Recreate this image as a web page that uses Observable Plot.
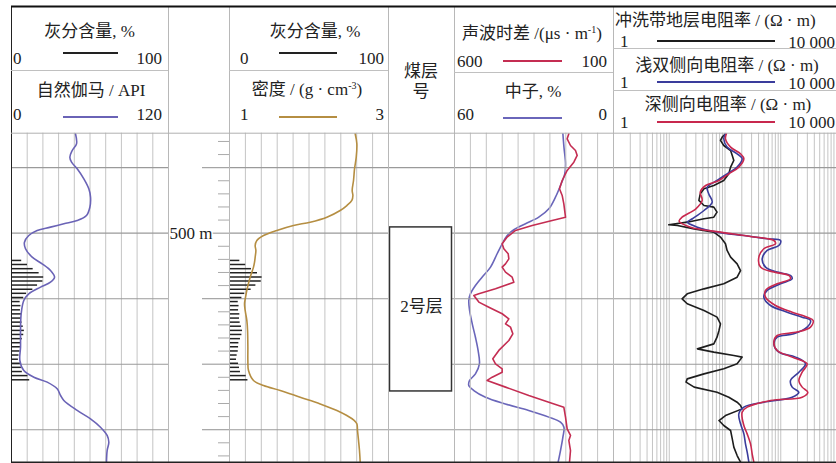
<!DOCTYPE html>
<html><head><meta charset="utf-8">
<script src="https://cdn.jsdelivr.net/npm/d3@7"></script>
<script src="https://cdn.jsdelivr.net/npm/@observablehq/plot@0.6"></script>
<style>
body{margin:0;background:#fff;}
#wrap{position:relative;width:836px;height:463px;overflow:hidden;font-family:"Liberation Serif","Times New Roman","Noto Sans CJK SC",serif;color:#222;}
#wrap svg{position:absolute;left:0;top:0;}
.t{position:absolute;font-size:17px;white-space:nowrap;line-height:17px;height:17px;}
.c{transform:translateX(-50%);}
.ln{position:absolute;height:0;border-top:2px solid #222;}
sup{font-size:10px;vertical-align:6px;line-height:0;}
</style></head><body><div id="wrap"></div>
<script>
// ---------------- data ----------------
const depthMajor = [495, 500, 505, 510, 515];
const depthMinor = [493,494,496,497,498,499,501,502,503,504,506,507,508,509,511,512,513,514,516,517];
const depthLabels = [500];

const grDepth = [492.41,493.18,493.69,494.20,494.58,495.08,495.85,496.61,497.25,498.02,498.65,499.03,499.28,499.54,499.79,500.18,500.69,501.19,501.83,502.34,502.85,503.36,503.74,504.12,504.63,505.14,506.15,507.43,508.70,509.72,510.48,510.99,511.37,511.88,512.39,512.77,513.53,514.17,514.81,515.44,515.95,516.59,517.48];
const grValue = [48.9,49.7,46.4,44.6,45.9,50.2,55.3,59.1,60.4,59.9,57.3,50.2,40.0,29.8,19.6,13.2,9.9,10.7,15.8,23.4,29.8,32.9,29.8,22.2,13.2,9.4,7.4,6.9,6.9,6.4,9.4,17.1,27.3,34.9,37.5,40.0,50.2,60.4,68.0,73.1,74.4,73.1,72.6];

const ashDepth = [502.08,502.39,502.71,503.02,503.34,503.65,503.96,504.28,504.59,504.91,505.22,505.53,505.85,506.16,506.48,506.79,507.10,507.42,507.73,508.05,508.36,508.67,508.99,509.30,509.62,509.93,510.24,510.56,510.87,511.19];
const ashValue = [6.5,10.2,13.8,17.6,20.5,20.0,16.6,13.6,9.6,7.8,5.5,6.0,5.7,6.5,6.3,6.7,7.5,8.2,7.8,6.9,5.9,5.7,5.5,4.8,4.4,5.7,6.3,6.9,10.5,11.6];

const denDepth = [492.41,493.18,494.20,495.08,495.98,496.74,497.12,497.50,497.89,498.27,498.78,499.16,499.41,499.79,500.18,500.56,500.94,501.32,501.83,502.21,502.59,503.36,504.12,504.88,505.39,505.90,506.66,507.43,508.70,509.72,510.48,511.24,511.63,512.01,512.52,513.03,513.53,513.92,514.25,514.55,515.06,515.82,516.59,517.48];
const denValue = [2.581,2.602,2.594,2.573,2.560,2.543,2.552,2.539,2.476,2.392,2.225,2.015,1.805,1.596,1.428,1.344,1.323,1.332,1.323,1.315,1.302,1.260,1.227,1.202,1.189,1.197,1.218,1.227,1.231,1.231,1.239,1.302,1.428,1.638,1.889,2.141,2.351,2.476,2.560,2.602,2.610,2.623,2.635,2.644];

const seams = [{name: "2号层", top: 499.56, bottom: 512.08}];

const sonDepth = [492.41,492.80,493.31,493.69,494.07,494.58,495.21,495.98,496.61,497.12,497.76,498.78,499.03,499.41,499.79,500.30,500.81,501.19,501.57,501.96,502.34,502.59,502.97,503.36,503.74,504.25,504.63,504.76,505.26,505.65,506.15,506.54,506.92,507.17,507.68,508.19,508.95,509.59,509.97,510.35,510.61,510.99,511.24,511.75,512.39,512.90,513.28,514.04,514.93,515.44,515.82,516.59,517.48];
const sonValue = [240.5,245.7,235.2,219.5,214.2,224.7,245.7,261.4,269.8,261.4,256.2,250.9,292.9,355.7,408.2,434.4,450.1,444.9,431.2,429.1,439.6,450.1,439.6,418.6,413.4,471.1,523.5,539.2,523.5,492.0,450.1,429.1,439.6,423.9,416.6,429.1,460.6,479.5,471.1,450.1,450.1,481.5,497.3,439.6,366.3,303.4,256.2,250.9,245.7,235.2,240.5,235.2,238.4];

const neuDepth = [492.41,493.43,494.70,495.47,496.36,497.25,498.14,498.78,499.28,499.74,500.18,500.81,501.57,502.59,503.36,503.99,504.63,505.14,505.90,506.92,507.94,508.95,509.97,510.74,511.24,511.63,512.01,512.52,513.03,513.53,514.04,514.43,514.81,515.57,516.59,517.48];
const neuValue = [19.1,18.7,18.1,18.4,20.0,21.9,24.4,28.2,33.2,37.6,40.1,42.0,43.9,46.4,49.6,52.1,54.0,54.6,54.3,53.3,52.1,51.1,50.6,52.1,54.3,54.6,52.7,48.3,40.8,32.0,24.4,20.0,18.7,19.1,20.0,20.9];

const rxoDepth = [492.41,492.67,492.92,493.31,493.69,494.07,494.45,494.96,495.47,495.98,496.36,496.61,497.00,497.50,497.89,498.01,498.39,498.78,498.90,499.16,499.36,499.41,499.67,499.92,500.30,500.81,501.32,501.83,502.34,502.85,503.36,503.86,504.25,504.63,505.01,505.39,505.90,506.41,506.92,507.43,507.94,508.45,508.83,509.08,509.34,509.46,509.97,510.35,510.74,511.12,511.37,511.75,512.14,512.52,512.90,513.15,513.41,513.92,514.30,514.68,515.06,515.70,516.33,516.97,517.48];
const rxoValue = [102,89,83,95,126,135,144,126,117,95,63,42,36,34,42,63,72,63,42,21,9.8,14,28,63,83,102,109,126,165,190,165,95,42,21,17,21,42,72,83,78,72,63,32,63,144,203,165,95,42,21,20,28,72,117,165,190,203,102,78,95,126,135,144,165,190];

const llsDepth = [492.41,492.80,493.43,493.94,494.32,494.96,495.47,495.98,496.49,497.00,497.63,498.27,498.90,499.16,499.54,499.92,500.18,500.43,500.56,500.94,501.32,501.96,502.59,502.97,503.23,503.48,503.86,504.37,504.88,505.52,506.03,506.41,506.66,507.17,507.68,507.94,508.45,509.08,509.46,509.97,510.61,511.24,511.75,512.14,512.52,512.90,513.28,513.79,514.55,515.32,516.08,516.71,517.48];
const llsValue = [102,95,109,165,203,165,109,72,48,51,59,42,26,21,32,72,218,571,990,924,571,464,533,863,1496,1602,990,571,497,655,1303,2422,3417,2977,1717,863,752,924,1839,2779,2115,1496,1602,2115,1602,497,218,177,190,218,233,250,268];

const lldDepth = [492.41,492.80,493.43,493.94,494.32,494.96,495.47,495.98,496.36,496.87,497.50,498.14,498.78,499.08,499.54,499.92,500.25,500.56,500.81,501.19,501.83,502.59,502.97,503.23,503.48,503.86,504.37,504.88,505.52,506.03,506.41,506.66,507.17,507.55,507.81,508.32,508.95,509.46,509.97,510.61,511.24,511.75,512.14,512.52,512.77,513.28,513.66,514.68,515.32,516.08,516.84,517.48];
const lldValue = [106,102,126,190,218,177,117,78,45,36,39,30,17,15,24,83,287,752,805,497,405,433,752,1396,1496,863,533,533,805,1602,2977,3815,3417,1970,863,752,863,1602,2977,2422,2115,2422,3060,2422,655,250,203,218,250,287,307,329];

// tick values of each track
const pctTicks = [0,10,20,30,40,50,60,70,80,90,100];
const sonTicks = [600,550,500,450,400,350,300,250,200,150,100];
const logTicks = [1,2,3,4,5,6,7,8,9,10,20,30,40,50,60,70,80,90,100,200,300,400,500,600,700,800,900,1000,2000,3000,4000,5000,6000,7000,8000,9000,10000];

// ---------------- helpers ----------------
const zip = (d, v) => d.map((depth, i) => ({depth, value: v[i]}));
const wrap = document.getElementById("wrap");
const FONT = '"Liberation Serif","Times New Roman","Noto Sans CJK SC",serif';
const Y = {domain: [492.37, 517.48], range: [132.7, 461.7], axis: null};
const VGRID = "#c4c4c4", HGRID = "#9a9a9a";
const C = {gr: "#6a63b6", den: "#b58e42", son: "#c42d52", neu: "#6a66ba", rxo: "#1d1d1d", lls: "#3a3c9c", lld: "#c8284e", ash: "#222"};

function layer(x, marks, y = Y) {
  const svg = Plot.plot({width: 836, height: 463, margin: 0, x: {...x, axis: null}, y: {...y, axis: null},
    style: {background: "transparent", overflow: "visible", fontFamily: FONT}, marks});
  wrap.appendChild(svg);
}
function grid(ticks, lo, hi) {
  return [
    Plot.ruleX(ticks, {x: d => d, y1: Y.domain[0], y2: Y.domain[1], stroke: VGRID, strokeWidth: 1}),
    Plot.ruleY(depthMajor, {y: d => d, x1: lo, x2: hi, stroke: HGRID, strokeWidth: 1.1})
  ];
}

// ---- frame (pixel layout, identity scales) ----
const frameV = [
  {x: 168, y1: 6, y2: 461.7, c: "#b8b8b8"}, {x: 229, y1: 6, y2: 461.7, c: "#b8b8b8"},
  {x: 388, y1: 6, y2: 461.7, c: "#b8b8b8"}, {x: 454, y1: 6, y2: 461.7, c: "#b8b8b8"},
  {x: 613, y1: 6, y2: 461.7, c: "#b8b8b8"}, {x: 11, y1: 6, y2: 462, c: "#222"}
];
const frameH = [
  {y: 132.7, x1: 11, x2: 836, c: "#b0b0b0", w: 1}, {y: 70, x1: 11, x2: 168, c: "#c0c0c0", w: 1},
  {y: 70, x1: 229, x2: 388, c: "#c0c0c0", w: 1}, {y: 72, x1: 454, x2: 613, c: "#c0c0c0", w: 1},
  {y: 48, x1: 613, x2: 836, c: "#c0c0c0", w: 1}, {y: 90, x1: 613, x2: 836, c: "#c0c0c0", w: 1},
  {y: 6, x1: 11, x2: 836, c: "#111", w: 2}, {y: 461.7, x1: 11, x2: 836, c: "#222", w: 1.5}
];

// Track 1: ash bars + grid
layer({domain: [0, 100], range: [11, 168]}, [
  ...grid(pctTicks, 0, 100),
  Plot.ruleY(zip(ashDepth, ashValue), {y: "depth", x1: 0, x2: "value", stroke: C.ash, strokeWidth: 1.5})
]);
// Track 1: GR
layer({domain: [0, 120], range: [11, 168]}, [
  Plot.line(zip(grDepth, grValue), {x: "value", y: "depth", stroke: C.gr, strokeWidth: 1.6, curve: "catmull-rom"})
]);
// Depth column
layer({type: "identity"}, [
  Plot.ruleY(depthMajor, {y: d => d, x1: 202, x2: 229, stroke: HGRID, strokeWidth: 1.1}),
  Plot.ruleY(depthMinor, {y: d => d, x1: 218, x2: 229, stroke: "#aaa", strokeWidth: 1}),
  Plot.text(depthLabels, {y: d => d, x: 169, text: d => `${d} m`, textAnchor: "start", fontSize: 17, fill: "#222", stroke: "#fff", strokeWidth: 3, paintOrder: "stroke"})
]);
// Track 2: ash + grid
layer({domain: [0, 100], range: [229, 388]}, [
  ...grid(pctTicks, 0, 100),
  Plot.ruleY(zip(ashDepth, ashValue), {y: "depth", x1: 0, x2: "value", stroke: C.ash, strokeWidth: 1.5})
]);
// Track 2: density
layer({domain: [1, 3], range: [229, 388]}, [
  Plot.line(zip(denDepth, denValue), {x: "value", y: "depth", stroke: C.den, strokeWidth: 1.6, curve: "catmull-rom"})
]);
// Coal seam column
layer({domain: [0, 1], range: [388, 454]}, [
  Plot.ruleY(depthMajor, {y: d => d, x1: 0, x2: 1, stroke: HGRID, strokeWidth: 1.1}),
  Plot.rect(seams, {x1: 0, x2: 1, y1: "top", y2: "bottom", insetLeft: 1.5, insetRight: 2.5, fill: "#fff", stroke: "#333", strokeWidth: 1.5}),
  Plot.text(seams, {x: 0.5, y: d => (d.top + d.bottom) / 2, text: "name", fontSize: 17, fill: "#222", dy: -3})
]);
// Track 3: neutron
layer({domain: [60, 0], range: [454, 613]}, [
  Plot.line(zip(neuDepth, neuValue), {x: "value", y: "depth", stroke: C.neu, strokeWidth: 1.6, curve: "catmull-rom"})
]);
// Track 3: grid + sonic
layer({domain: [600, 100], range: [454, 613]}, [
  ...grid(sonTicks, 600, 100),
  Plot.line(zip(sonDepth, sonValue), {x: "value", y: "depth", stroke: C.son, strokeWidth: 1.6})
]);
// Track 4: resistivities
layer({type: "log", domain: [1, 10000], range: [613, 836]}, [
  ...grid(logTicks, 1, 10000),
  Plot.line(zip(rxoDepth, rxoValue), {x: "value", y: "depth", stroke: C.rxo, strokeWidth: 1.6}),
  Plot.line(zip(llsDepth, llsValue), {x: "value", y: "depth", stroke: C.lls, strokeWidth: 1.6, curve: "catmull-rom"}),
  Plot.line(zip(lldDepth, lldValue), {x: "value", y: "depth", stroke: C.lld, strokeWidth: 1.6, curve: "catmull-rom"})
]);
// frame on top
layer({type: "identity"}, [
  Plot.ruleX(frameV, {x: "x", y1: "y1", y2: "y2", stroke: "c", strokeWidth: 1}),
  Plot.ruleY(frameH, {y: "y", x1: "x1", x2: "x2", stroke: "c", strokeWidth: "w"})
], {type: "identity"});

// ---------------- header (HTML text) ----------------
function T(html, o) {
  const d = document.createElement("div");
  d.className = "t" + (o.cx !== undefined ? " c" : "");
  d.innerHTML = html;
  if (o.cx !== undefined) d.style.left = o.cx + "px";
  if (o.l !== undefined) d.style.left = o.l + "px";
  if (o.r !== undefined) d.style.right = (836 - o.r) + "px";
  d.style.top = (o.cy - 9) + "px";
  wrap.appendChild(d);
}
function L(x1, x2, y, color) {
  const d = document.createElement("div");
  d.className = "ln";
  d.style.left = x1 + "px"; d.style.width = (x2 - x1) + "px"; d.style.top = (y - 1) + "px";
  d.style.borderTopColor = color;
  wrap.appendChild(d);
}
// track 1
T("灰分含量, %", {cx: 89.5, cy: 32}); T("0", {l: 13, cy: 59}); T("100", {r: 162, cy: 59}); L(63, 118, 53, C.ash);
T("自然伽马 / API", {cx: 91, cy: 91}); T("0", {l: 13, cy: 115}); T("120", {r: 162, cy: 115}); L(63, 118, 117, C.gr);
// track 2
T("灰分含量, %", {cx: 315, cy: 32}); T("0", {l: 240, cy: 59}); T("100", {r: 384, cy: 59}); L(279, 337, 53, C.ash);
T("密度 / (g · cm<sup>-3</sup>)", {cx: 307, cy: 90}); T("1", {l: 240, cy: 115}); T("3", {r: 384, cy: 115}); L(279, 337, 117, C.den);
// coal
T("煤层", {cx: 421, cy: 72}); T("号", {cx: 421, cy: 92});
// track 3
T("声波时差 /(μs · m<sup>-1</sup>)", {cx: 532, cy: 34}); T("600", {l: 457, cy: 62}); T("100", {r: 607, cy: 62}); L(503, 562, 61, C.son);
T("中子, %", {cx: 533, cy: 92}); T("60", {l: 457, cy: 115}); T("0", {r: 607, cy: 115}); L(503, 562, 118, C.neu);
// track 4
T("冲洗带地层电阻率 / (Ω · m)", {l: 615, cy: 21}); T("1", {l: 620, cy: 42}); T("10 000", {r: 835, cy: 43}); L(657, 775, 41, C.rxo);
T("浅双侧向电阻率 / (Ω · m)", {cx: 727, cy: 66}); T("1", {l: 620, cy: 83}); T("10 000", {r: 835, cy: 84}); L(657, 775, 82, C.lls);
T("深侧向电阻率 / (Ω · m)", {cx: 728, cy: 105}); T("1", {l: 620, cy: 123}); T("10 000", {r: 835, cy: 123}); L(657, 775, 122, C.lld);
</script></body></html>
